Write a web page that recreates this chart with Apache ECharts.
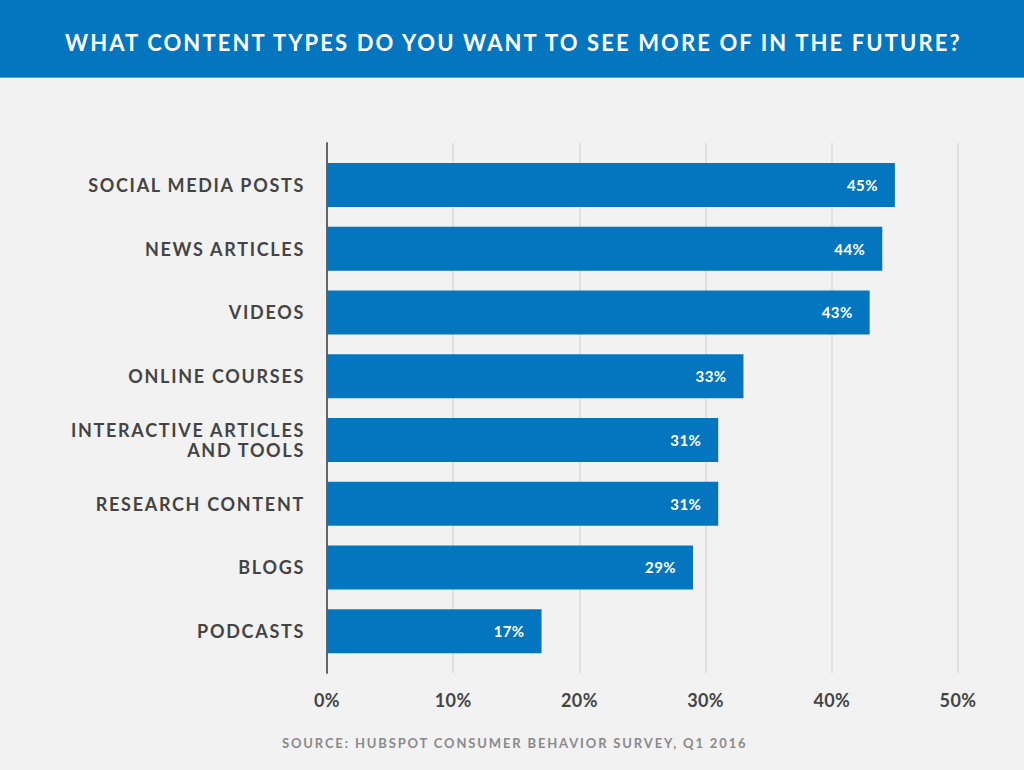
<!DOCTYPE html>
<html>
<head>
<meta charset="utf-8">
<script src="https://cdn.jsdelivr.net/npm/echarts@6/dist/echarts.min.js"></script>
<style>
html, body { margin: 0; padding: 0; background: #f2f2f2; }
#chart { width: 1024px; height: 770px; }
</style>
</head>
<body>
<div id="chart"></div>
<script>
// data
var categories = ['SOCIAL MEDIA POSTS', 'NEWS ARTICLES', 'VIDEOS', 'ONLINE COURSES',
    'INTERACTIVE ARTICLES\nAND TOOLS', 'RESEARCH CONTENT', 'BLOGS', 'PODCASTS'];
var shares = [45, 44, 43, 33, 31, 31, 29, 17];
var titleText = 'WHAT CONTENT TYPES DO YOU WANT TO SEE MORE OF IN THE FUTURE?';
var sourceText = 'SOURCE: HUBSPOT CONSUMER BEHAVIOR SURVEY, Q1 2016';

var blue = '#0376bf';
var font = 'Lato';

var chart = echarts.init(document.getElementById('chart'), null, { renderer: 'svg' });
chart.setOption({
    backgroundColor: '#f2f2f2',
    animation: false,
    graphic: [
        {
            type: 'rect',
            left: 0, top: 0,
            shape: { width: 1024, height: 77 },
            style: { fill: blue },
            z: 0
        },
        {
            type: 'rect',
            left: 0, top: 77,
            shape: { width: 1024, height: 1 },
            style: { fill: '#5aa6d8' },
            z: 0
        }
    ],
    title: [
        {
            text: titleText,
            left: 60,
            top: 26,
            textStyle: { color: '#fff', fontFamily: font, fontWeight: 'bold', fontSize: 22 }
        },
        {
            text: sourceText,
            left: 277,
            top: 731,
            textStyle: { color: '#8a8a8a', fontFamily: font, fontWeight: 'bold', fontSize: 13 }
        }
    ],
    grid: [
        { left: 327, right: 66, top: 143, height: 530 },
        { left: 327, right: 66, top: 153, height: 510 }
    ],
    xAxis: [
        {
            gridIndex: 0,
            type: 'value',
            min: 0, max: 50, interval: 10,
            axisLine: { show: false },
            axisTick: { show: false },
            splitLine: { lineStyle: { color: '#dadada', width: 1.5 } },
            axisLabel: {
                formatter: '{value}%',
                margin: 18,
                color: '#444',
                fontFamily: font,
                fontWeight: 'bold',
                fontSize: 18
            }
        },
        {
            gridIndex: 1,
            type: 'value',
            min: 0, max: 50,
            show: false
        }
    ],
    yAxis: [
        {
            gridIndex: 0,
            type: 'value',
            axisLine: { show: true, lineStyle: { color: '#666', width: 2 } },
            axisTick: { show: false },
            axisLabel: { show: false },
            splitLine: { show: false }
        },
        {
            gridIndex: 1,
            type: 'category',
            inverse: true,
            data: categories,
            axisLine: { show: false },
            axisTick: { show: false },
            axisLabel: {
                margin: 22,
                color: '#444',
                fontFamily: font,
                fontWeight: 'bold',
                fontSize: 18,
                lineHeight: 20
            }
        }
    ],
    series: [
        {
            type: 'bar',
            xAxisIndex: 1,
            yAxisIndex: 1,
            data: shares,
            barWidth: 44,
            itemStyle: { color: blue },
            label: {
                show: true,
                position: 'insideRight',
                distance: 17,
                formatter: '{c}%',
                color: '#fff',
                fontFamily: font,
                fontWeight: 'bold',
                fontSize: 15
            }
        }
    ]
});

// the picture uses tracked-out caps; ECharts has no letter spacing, so add it on the svg text
function spaceLetters() {
    var texts = document.querySelectorAll('#chart text');
    texts.forEach(function (el) {
        var t = el.textContent;
        var spacing = '1.7px';
        if (t === titleText) spacing = '2.1px';
        else if (t === sourceText) spacing = '1.85px';
        else if (/%$/.test(t)) spacing = '0.4px';
        el.style.letterSpacing = spacing;
    });
}
spaceLetters();
chart.on('finished', spaceLetters);
</script>
</body>
</html>
